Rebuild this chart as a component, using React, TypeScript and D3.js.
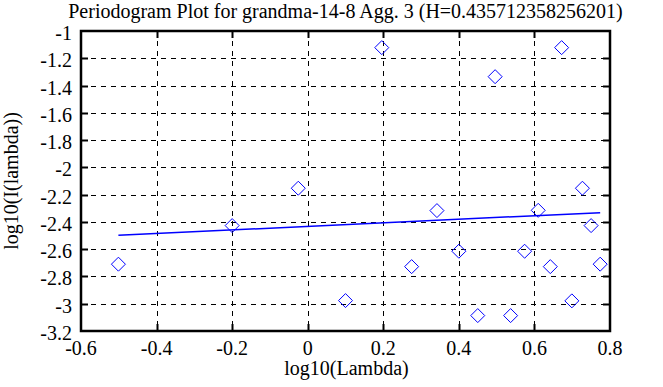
import { useEffect, useRef } from 'react';
import * as d3 from 'd3';

const title = 'Periodogram Plot for grandma-14-8 Agg. 3 (H=0.435712358256201)';
const xLabel = 'log10(Lambda)';
const yLabel = 'log10(I(lambda))';

const xTicks = [-0.6, -0.4, -0.2, 0, 0.2, 0.4, 0.6, 0.8];
const yTicks = [-1, -1.2, -1.4, -1.6, -1.8, -2, -2.2, -2.4, -2.6, -2.8, -3, -3.2];

// periodogram points
const logLambda = [-0.501, -0.200, -0.025, 0.100, 0.196, 0.275, 0.342, 0.400, 0.450, 0.496,
  0.537, 0.574, 0.610, 0.642, 0.672, 0.699, 0.727, 0.750, 0.774];
const logI = [-2.710, -2.427, -2.153, -2.977, -1.122, -2.728, -2.317, -2.615, -3.087, -1.335,
  -3.087, -2.615, -2.315, -2.728, -1.122, -2.979, -2.153, -2.427, -2.710];

// least squares fit endpoints
const fitX = [-0.501, 0.774];
const fitY = [-2.498, -2.332];

const FONT = 'Liberation Serif';
const FS = 20;

const App = () => {
  const svgRef = useRef<SVGSVGElement>(null);

  useEffect(() => {
    const W = 663, H = 387;
    const margin = { top: 31, right: 53, bottom: 56, left: 81 };
    const width = W - margin.left - margin.right;
    const height = H - margin.top - margin.bottom;

    const root = d3.select(svgRef.current);
    root.selectAll('*').remove();
    root.attr('width', W).attr('height', H);

    root.append('rect').attr('width', W).attr('height', H).attr('fill', 'white');

    const g = root.append('g').attr('transform', `translate(${margin.left},${margin.top})`);

    const x = d3.scaleLinear().domain([-0.6, 0.8]).range([0, width]);
    const y = d3.scaleLinear().domain([-3.2, -1]).range([height, 0]);

    // grid
    g.selectAll('.vgrid')
      .data(xTicks.slice(1, -1))
      .enter().append('line')
      .attr('x1', d => Math.round(x(d)) + 0.5).attr('x2', d => Math.round(x(d)) + 0.5)
      .attr('y1', 0).attr('y2', height)
      .attr('stroke', 'black').attr('stroke-width', 1)
      .attr('stroke-dasharray', '5,5');

    g.selectAll('.hgrid')
      .data(yTicks.slice(1, -1))
      .enter().append('line')
      .attr('x1', 0).attr('x2', width)
      .attr('y1', d => Math.round(y(d)) + 0.5).attr('y2', d => Math.round(y(d)) + 0.5)
      .attr('stroke', 'black').attr('stroke-width', 1)
      .attr('stroke-dasharray', '5,5');

    // inward tick marks
    const tl = 7;
    xTicks.slice(1, -1).forEach(t => {
      const px = Math.round(x(t)) + 0.5;
      g.append('line').attr('x1', px).attr('x2', px).attr('y1', 0).attr('y2', tl)
        .attr('stroke', 'black').attr('stroke-width', 2);
      g.append('line').attr('x1', px).attr('x2', px).attr('y1', height).attr('y2', height - tl)
        .attr('stroke', 'black').attr('stroke-width', 2);
    });
    yTicks.slice(1, -1).forEach(t => {
      const py = Math.round(y(t)) + 0.5;
      g.append('line').attr('x1', 0).attr('x2', tl).attr('y1', py).attr('y2', py)
        .attr('stroke', 'black').attr('stroke-width', 2);
      g.append('line').attr('x1', width).attr('x2', width - tl).attr('y1', py).attr('y2', py)
        .attr('stroke', 'black').attr('stroke-width', 2);
    });

    // fit line
    const line = d3.line<number>()
      .x(d => x(d))
      .y((d, i) => y(fitY[i]));
    g.append('path')
      .datum(fitX)
      .attr('fill', 'none')
      .attr('stroke', '#0000ff')
      .attr('stroke-width', 1.5)
      .attr('d', line);

    // diamonds
    const r = 7;
    g.selectAll('.pt')
      .data(logLambda)
      .enter().append('path')
      .attr('d', (d, i) => {
        const cx = x(d), cy = y(logI[i]);
        return `M${cx},${cy - r}L${cx + r},${cy}L${cx},${cy + r}L${cx - r},${cy}Z`;
      })
      .attr('fill', 'none')
      .attr('stroke', '#0000ff')
      .attr('stroke-width', 1);

    // frame
    g.append('rect')
      .attr('width', width).attr('height', height)
      .attr('fill', 'none').attr('stroke', 'black').attr('stroke-width', 2.5);

    // tick labels
    g.selectAll('.xl')
      .data(xTicks)
      .enter().append('text')
      .attr('font-family', FONT).attr('font-size', FS)
      .attr('x', d => x(d)).attr('y', height + 24)
      .attr('text-anchor', 'middle')
      .text(d => String(d));

    g.selectAll('.yl')
      .data(yTicks)
      .enter().append('text')
      .attr('font-family', FONT).attr('font-size', FS)
      .attr('x', -9).attr('y', d => y(d) + 9)
      .attr('text-anchor', 'end')
      .text(d => String(d));

    // titles
    root.append('text')
      .attr('font-family', FONT).attr('font-size', FS)
      .attr('x', 345.5).attr('y', 18)
      .attr('text-anchor', 'middle')
      .text(title);

    root.append('text')
      .attr('font-family', FONT).attr('font-size', FS)
      .attr('x', 346.5).attr('y', 375)
      .attr('text-anchor', 'middle')
      .text(xLabel);

    root.append('text')
      .attr('font-family', FONT).attr('font-size', FS)
      .attr('transform', `translate(18,${margin.top + height / 2}) rotate(-90)`)
      .attr('text-anchor', 'middle')
      .text(yLabel);
  }, []);

  return (
    <svg ref={svgRef} style={{ position: 'absolute', left: 0, top: 0 }}></svg>
  );
};

export default App;
